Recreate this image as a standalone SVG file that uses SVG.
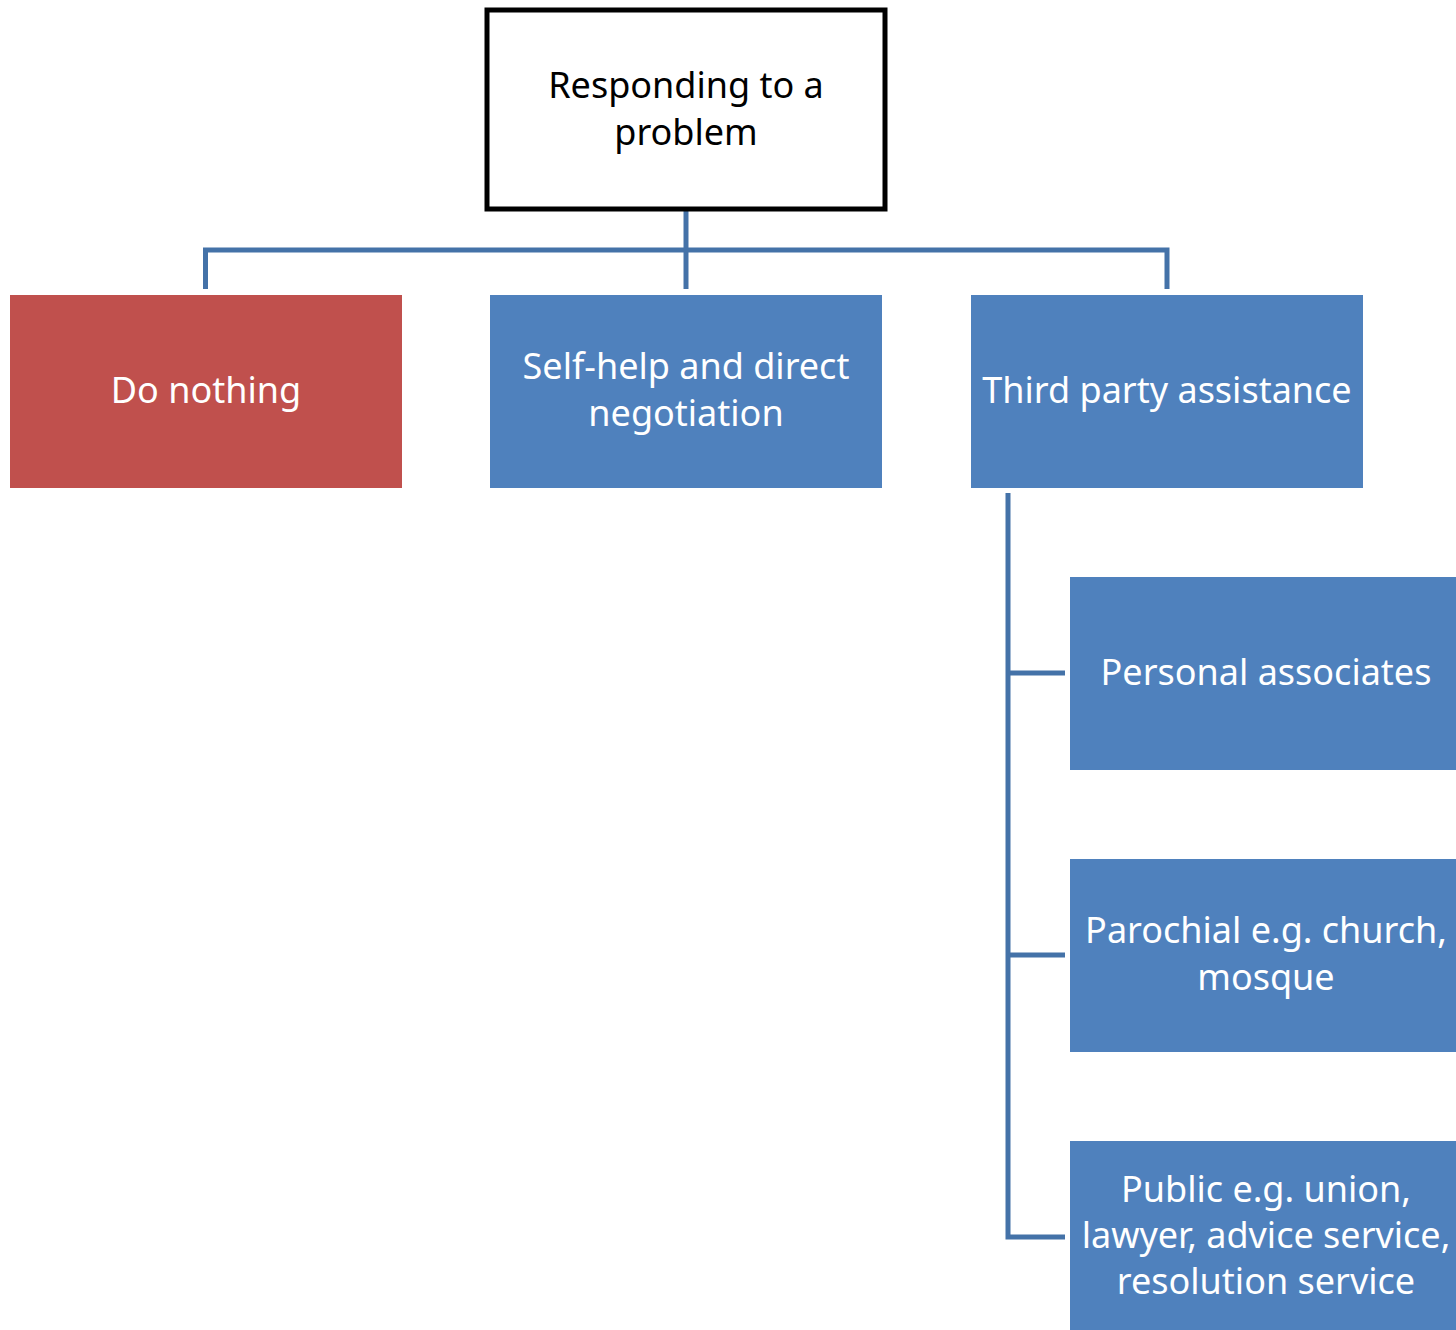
<svg xmlns="http://www.w3.org/2000/svg" width="1456" height="1330" viewBox="0 0 1456 1330">
<style>
.lbl{font-family:"Noto Sans","Liberation Sans",sans-serif;font-size:36px;text-anchor:middle}
.w{fill:#ffffff}
.k{fill:#000000}
.blue{fill:#4F81BD}
.red{fill:#C0504D}
.con{fill:none;stroke:#4472A8;stroke-width:5}
</style>
<rect width="1456" height="1330" fill="#ffffff"/>
<g id="connectors">
<path class="con" d="M205.5 289 V250 H1167 V289"/>
<path class="con" d="M686 210 V289"/>
<path class="con" d="M1008 493 V1237 H1065"/>
<path class="con" d="M1008 673 H1065"/>
<path class="con" d="M1008 955 H1065"/>
</g>
<g id="root">
<rect x="487" y="10" width="398" height="199" fill="#ffffff" stroke="#000000" stroke-width="5"/>
<text class="lbl k" x="686" y="98">Responding to a</text>
<text class="lbl k" x="686" y="145">problem</text>
</g>
<g id="do-nothing">
<rect class="red" x="10" y="295" width="392" height="193"/>
<text class="lbl w" x="206" y="403">Do nothing</text>
</g>
<g id="self-help">
<rect class="blue" x="490" y="295" width="392" height="193"/>
<text class="lbl w" x="686" y="379">Self-help and direct</text>
<text class="lbl w" x="686" y="426">negotiation</text>
</g>
<g id="third-party">
<rect class="blue" x="971" y="295" width="392" height="193"/>
<text class="lbl w" x="1167" y="403">Third party assistance</text>
</g>
<g id="personal">
<rect class="blue" x="1070" y="577" width="392" height="193"/>
<text class="lbl w" x="1266" y="685">Personal associates</text>
</g>
<g id="parochial">
<rect class="blue" x="1070" y="859" width="392" height="193"/>
<text class="lbl w" x="1266" y="943">Parochial e.g. church,</text>
<text class="lbl w" x="1266" y="990">mosque</text>
</g>
<g id="public">
<rect class="blue" x="1070" y="1141" width="392" height="193"/>
<text class="lbl w" x="1266" y="1202">Public e.g. union,</text>
<text class="lbl w" x="1266" y="1248">lawyer, advice service,</text>
<text class="lbl w" x="1266" y="1294">resolution service</text>
</g>
</svg>
